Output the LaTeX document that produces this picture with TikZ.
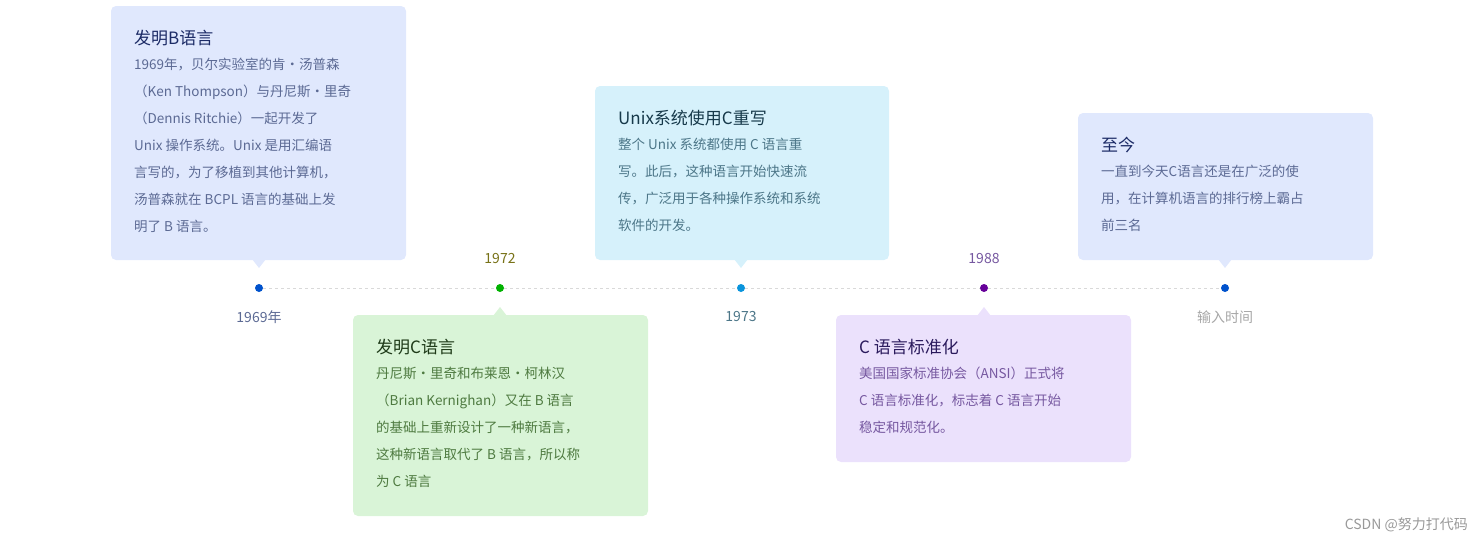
\documentclass[tikz,border=0pt]{standalone}
\usepackage{fontspec}
\setmainfont{Noto Sans CJK SC}
\begin{document}
\begin{tikzpicture}[x=1pt,y=-1pt,
  box/.style={rounded corners=5pt},
  ttl/.style={anchor=west,inner sep=0,font=\fontsize{17}{20}\selectfont},
  bdy/.style={anchor=north west,inner sep=0,align=left,font=\fontsize{13.5}{27}\selectfont},
  yr/.style={inner sep=0,font=\fontsize{14}{16}\selectfont},
  dot/.style={circle,inner sep=0,minimum size=8pt}]
\useasboundingbox (0,0) rectangle (1483,544);
\definecolor{bA}{HTML}{E0E8FD}\definecolor{tA}{HTML}{1C2B66}\definecolor{pA}{HTML}{5C6A94}
\definecolor{bB}{HTML}{D9F4D7}\definecolor{tB}{HTML}{1E3A18}\definecolor{pB}{HTML}{4E7A40}
\definecolor{bC}{HTML}{D6F1FB}\definecolor{tC}{HTML}{16394A}\definecolor{pC}{HTML}{4C7688}
\definecolor{bD}{HTML}{EBE1FC}\definecolor{tD}{HTML}{2A1A5C}\definecolor{pD}{HTML}{7658A0}
% timeline
\node[dot,fill=blue!60!cyan!80!black] (d1) at (259,288) {};
\node[dot,fill=green!70!black] (d2) at (500,288) {};
\node[dot,fill=cyan!80!blue] (d3) at (741,288) {};
\node[dot,fill=violet!80!blue] (d4) at (984,288) {};
\node[dot,fill=blue!60!cyan!80!black] (d5) at (1225,288) {};
\draw[gray!30,dashed] (d1)--(d2) (d2)--(d3) (d3)--(d4) (d4)--(d5);
\node[yr,text=pA] (y1) at (259,317) {1969年};
\node[yr,text=olive!80!black] (y2) at (500,259) {1972};
\node[yr,text=pC] (y3) at (741,317) {1973};
\node[yr,text=pD] (y4) at (984,259) {1988};
\node[yr,text=gray!70] (y5) at (1225,317) {输入时间};
% boxes
\fill[bA,box] (111,6) rectangle (406,260); \fill[bA] (252,259)--(259,268)--(266,259)--cycle;
\fill[bB,box] (353,315) rectangle (648,516); \fill[bB] (493,316)--(500,307)--(507,316)--cycle;
\fill[bC,box] (595,86) rectangle (889,260); \fill[bC] (734,259)--(741,268)--(748,259)--cycle;
\fill[bD,box] (836,315) rectangle (1131,462); \fill[bD] (977,316)--(984,307)--(991,316)--cycle;
\fill[bA,box] (1078,113) rectangle (1373,260); \fill[bA] (1218,259)--(1225,268)--(1232,259)--cycle;
% texts
\node[ttl,text=tA] (t1) at (134,38) {发明B语言};
\node[bdy,text=pA] (p1) at (134,58) {1969年，贝尔实验室的肯·汤普森\\（Ken Thompson）与丹尼斯·里奇\\（Dennis Ritchie）一起开发了\\Unix 操作系统。Unix 是用汇编语\\言写的，为了移植到其他计算机，\\汤普森就在 BCPL 语言的基础上发\\明了 B 语言。};
\node[ttl,text=tB] (t2) at (376,347) {发明C语言};
\node[bdy,text=pB] (p2) at (376,367) {丹尼斯·里奇和布莱恩·柯林汉\\（Brian Kernighan）又在 B 语言\\的基础上重新设计了一种新语言，\\这种新语言取代了 B 语言，所以称\\为 C 语言};
\node[ttl,text=tC] (t3) at (618,118) {Unix系统使用C重写};
\node[bdy,text=pC] (p3) at (618,138) {整个 Unix 系统都使用 C 语言重\\写。此后，这种语言开始快速流\\传，广泛用于各种操作系统和系统\\软件的开发。};
\node[ttl,text=tD] (t4) at (859,347) {C 语言标准化};
\node[bdy,text=pD] (p4) at (859,367) {美国国家标准协会（ANSI）正式将\\C 语言标准化，标志着 C 语言开始\\稳定和规范化。};
\node[ttl,text=tA] (t5) at (1101,145) {至今};
\node[bdy,text=pA] (p5) at (1101,165) {一直到今天C语言还是在广泛的使\\用，在计算机语言的排行榜上霸占\\前三名};
\node[inner sep=0,anchor=east,text=gray!80,font=\fontsize{14}{16}\selectfont] (wm) at (1468,525) {CSDN @努力打代码};
\end{tikzpicture}
\end{document}
